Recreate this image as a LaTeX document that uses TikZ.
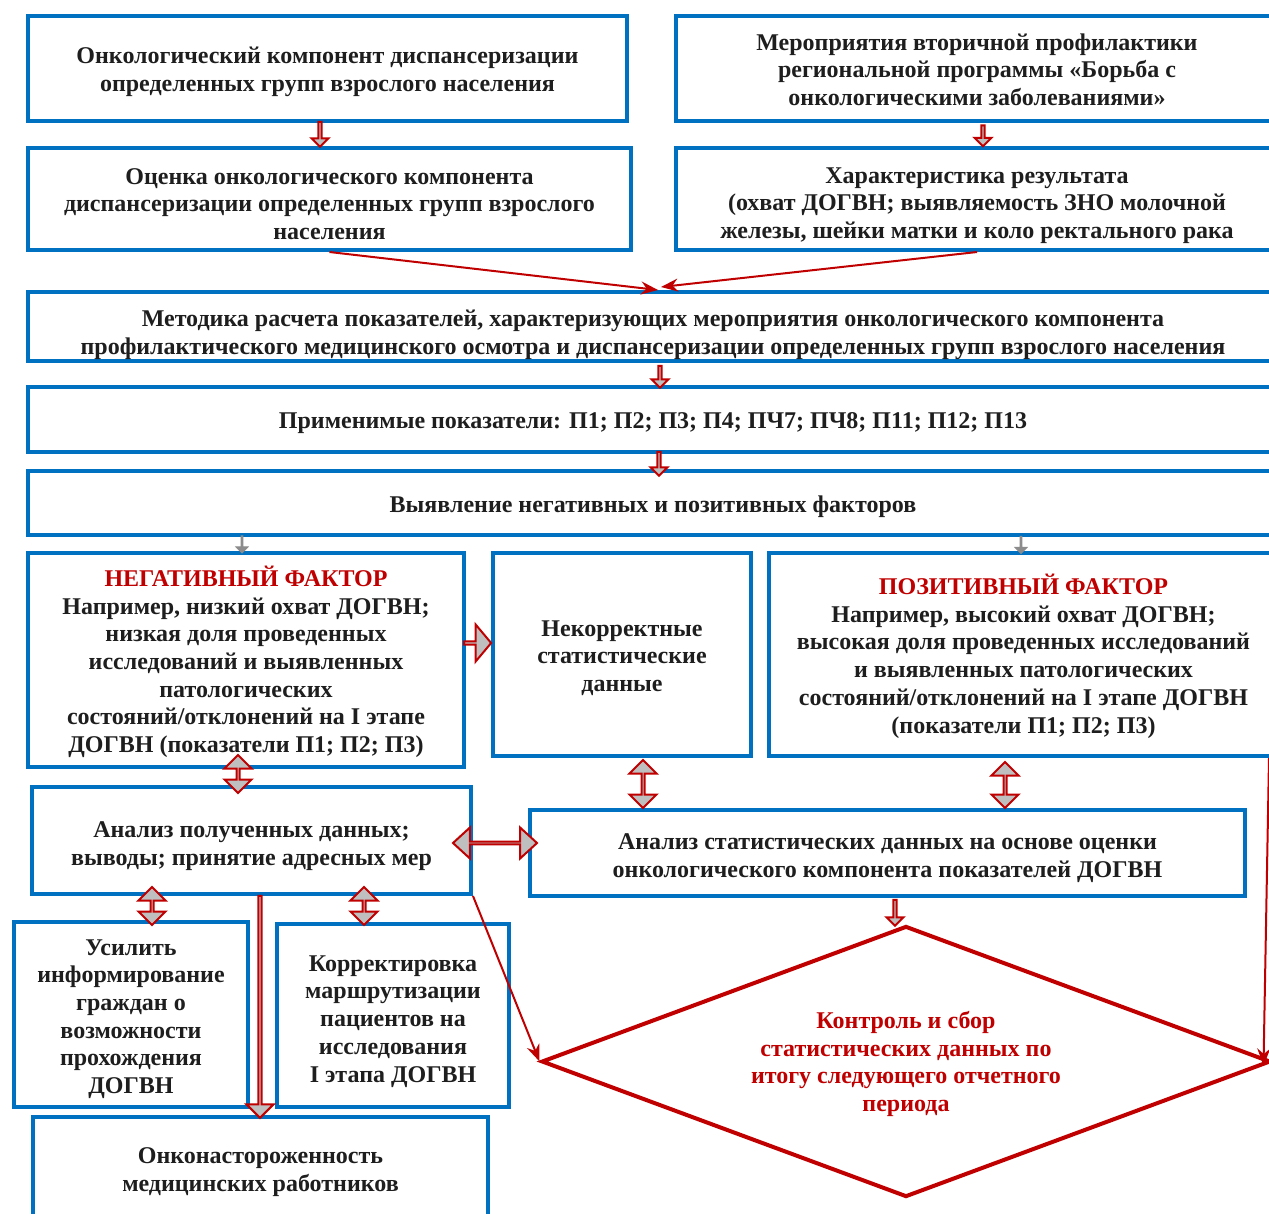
\documentclass[tikz,border=0pt]{standalone}
\usepackage{fontspec}
\setmainfont{Liberation Serif}
\usepackage{tikz}
\usetikzlibrary{shapes.geometric, shapes.arrows, arrows.meta}
\definecolor{boxblue}{RGB}{0,112,192}
\definecolor{dred}{RGB}{192,0,0}
\definecolor{txt}{RGB}{30,30,30}
\definecolor{lgray}{RGB}{191,191,191}
\definecolor{mgray}{RGB}{140,140,140}
\tikzstyle{box} = [rectangle, draw=boxblue, line width=4pt, fill=white, inner sep=0pt, align=center, text=txt, text depth=0pt, font=\fontsize{24}{27.7}\selectfont\bfseries]
\tikzstyle{arrow} = [dred, line width=2pt, -{Stealth[length=17pt, width=13pt]}]
\tikzstyle{blk} = [single arrow, draw=dred, fill=lgray, line width=2pt, inner sep=0pt, single arrow head extend=4.5pt, minimum width=17pt]
\tikzstyle{gblk} = [single arrow, draw=mgray, fill=mgray, line width=1pt, inner sep=0pt, single arrow head extend=3pt, minimum width=12pt, minimum height=17pt]
\tikzstyle{dblk} = [double arrow, draw=dred, fill=lgray, line width=2pt, inner sep=0pt, double arrow head extend=8pt, minimum width=27pt]

\begin{document}
\begin{tikzpicture}[x=1pt, y=-1pt]
		\useasboundingbox (0,0) rectangle (1269,1213);
		\clip (0,0) rectangle (1269,1213);
		% upper boxes
		\node (kompon) [box, text height=46pt, minimum width=599pt, minimum height=105pt] at (327.5,68.5) {Онкологический компонент диспансеризации\\определенных групп взрослого населения};
		\node (meropr) [box, text height=74pt, minimum width=602pt, minimum height=105pt] at (977,68.5) {Мероприятия вторичной профилактики\\региональной программы «Борьба с\\онкологическими заболеваниями»};
		\node (ocenka) [box, text height=81pt, minimum width=603pt, minimum height=102pt] at (329.5,199) {Оценка онкологического компонента\\диспансеризации определенных групп взрослого\\населения};
		\node (harakt) [box, text height=79pt, minimum width=602pt, minimum height=102pt] at (977,199) {Характеристика результата\\(охват ДОГВН; выявляемость ЗНО молочной\\железы, шейки матки и коло ректального рака};
		\node (metod) [box, text height=55pt, minimum width=1250pt, minimum height=69pt] at (653,326.5) {Методика расчета показателей, характеризующих мероприятия онкологического компонента\\профилактического медицинского осмотра и диспансеризации определенных групп взрослого населения};
		\node (pokaz) [box, text height=17pt, minimum width=1250pt, minimum height=65pt] at (653,419.5) {Применимые показатели: П1; П2; П3; П4; ПЧ7; ПЧ8; П11; П12; П13};
		\node (vyyavl) [box, text height=19pt, minimum width=1250pt, minimum height=64pt] at (653,503) {Выявление негативных и позитивных факторов};
		% factors
		\node (negat) [box, text height=185pt, minimum width=436pt, minimum height=214pt] at (246,660) {{\color{dred}НЕГАТИВНЫЙ ФАКТОР}\\Например, низкий охват ДОГВН;\\низкая доля проведенных\\исследований и выявленных\\патологических\\состояний/отклонений на I этапе\\ДОГВН (показатели П1; П2; П3)};
		\node (nekorr) [box, text height=74pt, minimum width=258pt, minimum height=203pt] at (622,654.5) {Некорректные\\статистические\\данные};
		\node (pozit) [box, text height=157pt, minimum width=509pt, minimum height=203pt] at (1023.5,654.5) {{\color{dred}ПОЗИТИВНЫЙ ФАКТОР}\\Например, высокий охват ДОГВН;\\высокая доля проведенных исследований\\и выявленных патологических\\состояний/отклонений на I этапе ДОГВН\\(показатели П1; П2; П3)};
		% analysis
		\node (analiz) [box, text height=50pt, minimum width=439pt, minimum height=107pt] at (251.5,840.5) {Анализ полученных данных;\\выводы; принятие адресных мер};
		\node (analstat) [box, text height=49pt, minimum width=715pt, minimum height=86pt] at (887.5,853) {Анализ статистических данных на основе оценки\\онкологического компонента показателей ДОГВН};
		\node (kontrol) [diamond, aspect=2.69, draw=dred, line width=4pt, fill=white, inner sep=0pt, minimum width=729pt, minimum height=271pt, align=center, text=dred, text height=100pt, text depth=0pt, font=\fontsize{24}{27.7}\selectfont\bfseries] at (906,1061.5) {Контроль и сбор\\статистических данных по\\итогу следующего отчетного\\периода};
		% measures
		\node (usil) [box, text height=158pt, minimum width=234pt, minimum height=185pt] at (131,1014.5) {Усилить\\информирование\\граждан о\\возможности\\прохождения\\ДОГВН};
		\node (korr) [box, text height=133pt, minimum width=232pt, minimum height=183pt] at (393,1015.5) {Корректировка\\маршрутизации\\пациентов на\\исследования\\I этапа ДОГВН};
		\node (onkonast) [box, text height=45pt, minimum width=455pt, minimum height=104pt] at (260.5,1169) {Онконастороженность\\медицинских работников};
		% block arrows
		\node (s1) [blk, rotate=-90, minimum height=25pt] at (320,133.5) {};
		\node (s2) [blk, rotate=-90, minimum height=21pt] at (983,135) {};
		\node (s3) [blk, rotate=-90, minimum height=22pt] at (660,376) {};
		\node (s4) [blk, rotate=-90, minimum height=24pt] at (659,463) {};
		\node (g1) [gblk, rotate=-90] at (242,544) {};
		\node (g2) [gblk, rotate=-90] at (1021,544.5) {};
		\node (s5) [blk, rotate=-90, minimum height=26pt] at (895,912) {};
		\node (r1) [blk, minimum width=37pt, single arrow head extend=11pt, single arrow tip angle=100, minimum height=27pt] at (477,643) {};
		\node (d1) [dblk, rotate=90, minimum height=38pt] at (238,774) {};
		\node (d2) [dblk, rotate=90, minimum height=48pt] at (643,784) {};
		\node (d3) [dblk, rotate=90, minimum height=46pt] at (1005,785) {};
		\node (d4) [dblk, rotate=90, minimum height=38pt] at (152,906) {};
		\node (d5) [dblk, rotate=90, minimum height=38pt] at (364,906) {};
		\node (dh) [dblk, minimum width=31pt, double arrow head extend=10pt, double arrow tip angle=85, minimum height=84pt] at (495,843) {};
		\node (long) [blk, rotate=-90, minimum width=27pt, single arrow head extend=7pt, minimum height=222pt] at (260,1006) {};
		% thin arrows
		\draw [arrow] (ocenka.south) -- (658,290);
		\draw [arrow] (harakt.south) -- (661,287);
		\draw [arrow] (analiz.south east) -- (kontrol.west);
		\draw [arrow] ([xshift=-11pt]pozit.south east) -- ([xshift=-9pt, yshift=-4pt]kontrol.east);
\end{tikzpicture}
\end{document}
